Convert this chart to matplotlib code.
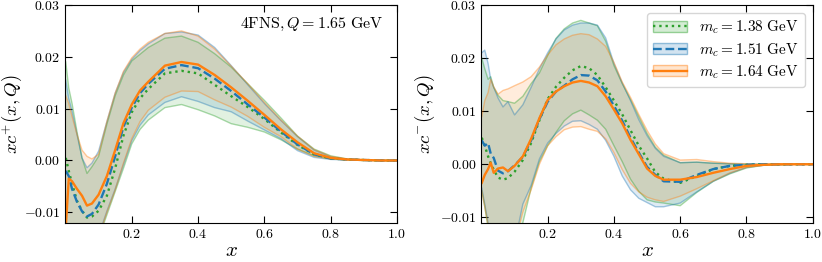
import matplotlib
matplotlib.use("Agg")
import matplotlib.pyplot as plt
from matplotlib.patches import Patch
from matplotlib.lines import Line2D
from matplotlib.colors import to_rgba

plt.rcParams['mathtext.fontset'] = 'cm'
plt.rcParams['font.family'] = 'serif'
plt.rcParams['font.serif'] = ['cmr10', 'DejaVu Serif']
plt.rcParams['axes.formatter.use_mathtext'] = True

labels = [r"$m_c = 1.38\ \mathrm{GeV}$", r"$m_c = 1.51\ \mathrm{GeV}$", r"$m_c = 1.64\ \mathrm{GeV}$"]
colors = ['#2ca02c', '#1f77b4', '#ff7f0e']
styles = [':', '--', '-']

# ---- xc+ (left panel)
x_plus = [0.001, 0.01, 0.02, 0.035, 0.05, 0.065, 0.08, 0.1, 0.125, 0.15, 0.175, 0.2, 0.225, 0.25,
          0.3, 0.35, 0.4, 0.45, 0.5, 0.55, 0.6, 0.65, 0.7, 0.75, 0.8, 0.85, 0.9, 0.95, 1.0]
plus_138 = [0.0005, -0.002, -0.0045, -0.0078, -0.0097, -0.011, -0.0108, -0.0097, -0.0068, -0.0015, 0.0048,
            0.0093, 0.012, 0.0138, 0.0168, 0.0173, 0.0168, 0.0146, 0.0124, 0.0103, 0.008, 0.0054, 0.003,
            0.0012, 0.0004, 0.0002, 0.0001, 0.0, 0.0]
plus_151 = [-0.002, -0.003, -0.0055, -0.008, -0.0098, -0.0108, -0.0103, -0.0085, -0.0045, 0.0008, 0.0065,
            0.0102, 0.013, 0.0148, 0.0177, 0.0184, 0.0178, 0.0158, 0.0134, 0.0108, 0.0083, 0.0056, 0.0031,
            0.0012, 0.0004, 0.0002, 0.0001, 0.0, 0.0]
plus_164 = [-0.013, -0.0035, -0.004, -0.0055, -0.0068, -0.0087, -0.0083, -0.0066, -0.003, 0.002, 0.0072,
            0.0108, 0.0135, 0.0152, 0.0183, 0.019, 0.0185, 0.0165, 0.0141, 0.0115, 0.0088, 0.006, 0.0035,
            0.0014, 0.0005, 0.0002, 0.0001, 0.0, 0.0]
plus_138_hi = [0.019, 0.014, 0.011, 0.0055, 0.0005, -0.0025, -0.0012, 0.0008, 0.007, 0.0125, 0.0165, 0.0192,
               0.0205, 0.0218, 0.0236, 0.024, 0.0228, 0.0206, 0.018, 0.0148, 0.0116, 0.0082, 0.0047, 0.0022,
               0.0009, 0.0003, 0.0001, 0.0, 0.0]
plus_151_hi = [0.0155, 0.012, 0.0095, 0.005, 0.0005, -0.0014, -0.0005, 0.0018, 0.0075, 0.013, 0.017, 0.0195,
               0.0212, 0.0225, 0.0245, 0.0248, 0.0242, 0.0218, 0.0183, 0.0146, 0.011, 0.0077, 0.0046, 0.002,
               0.0007, 0.0002, 0.0001, 0.0, 0.0]
plus_164_hi = [0.0125, 0.011, 0.0085, 0.005, 0.002, 0.0008, 0.0003, 0.0012, 0.0075, 0.013, 0.0172, 0.0198,
               0.0215, 0.0228, 0.0245, 0.025, 0.024, 0.0215, 0.0182, 0.0148, 0.0112, 0.0078, 0.0047, 0.0021,
               0.0008, 0.0003, 0.0001, 0.0, 0.0]
plus_138_lo = [-0.03, -0.03, -0.03, -0.03, -0.028, -0.025, -0.02, -0.015, -0.0105, -0.006, -0.0015, 0.0032,
               0.006, 0.0078, 0.0102, 0.0108, 0.0098, 0.0086, 0.0071, 0.0064, 0.0055, 0.004, 0.0022, 0.0009,
               0.0003, 0.0001, 0.0, 0.0, 0.0]
plus_151_lo = [-0.03, -0.03, -0.03, -0.03, -0.028, -0.025, -0.02, -0.0145, -0.0098, -0.0055, -0.0008, 0.0038,
               0.0068, 0.0088, 0.0112, 0.0123, 0.0114, 0.0102, 0.0094, 0.0076, 0.0059, 0.0042, 0.0019, 0.0006,
               0.0002, 0.0001, 0.0, 0.0, 0.0]
plus_164_lo = [-0.03, -0.03, -0.03, -0.03, -0.028, -0.025, -0.02, -0.0148, -0.01, -0.0057, -0.0005, 0.0042,
               0.0075, 0.0097, 0.0122, 0.0134, 0.0133, 0.0117, 0.0103, 0.0085, 0.0064, 0.0046, 0.0022, 0.0008,
               0.0003, 0.0001, 0.0, 0.0, 0.0]

# ---- xc- (right panel)
x_minus = [0.001, 0.01, 0.02, 0.028, 0.037, 0.05, 0.065, 0.08, 0.1, 0.125, 0.15, 0.175, 0.2, 0.225, 0.25,
           0.275, 0.3, 0.325, 0.35, 0.375, 0.4, 0.425, 0.45, 0.475, 0.5, 0.525, 0.55, 0.6, 0.65, 0.7, 0.75,
           0.8, 0.85, 0.9, 0.95, 1.0]
minus_138 = [0.005, 0.0035, 0.0015, 0.0002, -0.001, -0.0025, -0.0029, -0.0026, -0.0014, 0.0008, 0.004, 0.0083,
             0.0123, 0.0146, 0.0163, 0.0177, 0.0185, 0.0181, 0.0168, 0.0145, 0.012, 0.0094, 0.0064, 0.0035,
             0.0011, -0.0015, -0.0027, -0.0035, -0.0022, -0.0009, -0.0003, -0.0001, 0.0, 0.0, 0.0, 0.0]
minus_151 = [0.0045, 0.0035, 0.004, 0.002, 0.0012, -0.0012, -0.0017, -0.0013, -0.0002, 0.0014, 0.0045, 0.0085,
             0.0118, 0.0137, 0.0148, 0.016, 0.0168, 0.0167, 0.0158, 0.0137, 0.011, 0.0082, 0.005, 0.0022,
             -0.0005, -0.002, -0.0032, -0.0033, -0.002, -0.0009, -0.0003, -0.0001, 0.0, 0.0, 0.0, 0.0]
minus_164 = [-0.0035, -0.002, -0.0009, 0.0003, -0.0016, -0.0008, -0.0006, -0.0013, -0.0003, 0.0015, 0.0048,
             0.0087, 0.0121, 0.0137, 0.0147, 0.0154, 0.0157, 0.0154, 0.0147, 0.0128, 0.0103, 0.0077, 0.0046,
             0.0019, -0.0008, -0.0022, -0.0029, -0.0029, -0.0024, -0.0016, -0.0009, -0.0003, -0.0001, 0.0,
             0.0, 0.0]
minus_138_hi = [0.02, 0.018, 0.016, 0.0165, 0.0145, 0.013, 0.012, 0.0118, 0.0115, 0.0128, 0.0152, 0.0172,
                0.0205, 0.0237, 0.0255, 0.0266, 0.0271, 0.0266, 0.0261, 0.0232, 0.0186, 0.0152, 0.0122, 0.009,
                0.0058, 0.0032, 0.0017, 0.0003, 0.0004, 0.0002, 0.0001, 0.0, 0.0, 0.0, 0.0, 0.0]
minus_151_hi = [0.021, 0.0215, 0.019, 0.016, 0.0145, 0.0125, 0.0108, 0.0118, 0.0093, 0.0112, 0.0145, 0.018,
                0.021, 0.0236, 0.0253, 0.0262, 0.0266, 0.0266, 0.0262, 0.0238, 0.019, 0.0153, 0.012, 0.0084,
                0.0054, 0.003, 0.0015, 0.0003, 0.0004, 0.0002, 0.0001, 0.0, 0.0, 0.0, 0.0, 0.0]
minus_164_hi = [0.009, 0.012, 0.0135, 0.016, 0.0146, 0.0132, 0.0139, 0.0142, 0.0148, 0.0155, 0.0165, 0.0183,
                0.0206, 0.0225, 0.0236, 0.0243, 0.0246, 0.0244, 0.0236, 0.0222, 0.0192, 0.0155, 0.0126, 0.0094,
                0.0064, 0.0038, 0.002, 0.0008, 0.0009, 0.0005, 0.0002, 0.0001, 0.0, 0.0, 0.0, 0.0]
minus_138_lo = [-0.005, -0.008, -0.012, -0.015, -0.02, -0.025, -0.025, -0.02, -0.015, -0.011, -0.0045, 0.0005,
                0.0035, 0.006, 0.0082, 0.0095, 0.0102, 0.0093, 0.0083, 0.0066, 0.0035, 0.0005, -0.0028, -0.0051,
                -0.0067, -0.0071, -0.0073, -0.0078, -0.0053, -0.0032, -0.0018, -0.0007, -0.0002, -0.0001, 0.0,
                0.0]
minus_151_lo = [-0.0045, -0.0075, -0.011, -0.014, -0.019, -0.024, -0.025, -0.02, -0.015, -0.0075, -0.004, 0.001,
                0.004, 0.0058, 0.0072, 0.0081, 0.0082, 0.0075, 0.0066, 0.0045, 0.0015, -0.0022, -0.0048, -0.0064,
                -0.0072, -0.008, -0.008, -0.0073, -0.0052, -0.0032, -0.0017, -0.0006, -0.0002, -0.0001, 0.0, 0.0]
minus_164_lo = [-0.005, -0.008, -0.0115, -0.0145, -0.02, -0.025, -0.025, -0.02, -0.015, -0.009, -0.0048, 0.0,
                0.0035, 0.0052, 0.0065, 0.007, 0.0071, 0.0066, 0.0062, 0.0048, 0.0022, -0.001, -0.0036, -0.0052,
                -0.0062, -0.0067, -0.007, -0.006, -0.0046, -0.0031, -0.0016, -0.0006, -0.0002, -0.0001, 0.0, 0.0]


def draw_panel(ax, x, central, upper, lower):
    for c, y, hi, lo in zip(colors, central, upper, lower):
        ax.fill_between(x, lo, hi, color=c, alpha=0.14, lw=0)
        ax.plot(x, hi, color=c, alpha=0.4, lw=1.0)
        ax.plot(x, lo, color=c, alpha=0.4, lw=1.0)
    for c, ls, y in zip(colors, styles, central):
        ax.plot(x, y, color=c, ls=ls, lw=1.7)
    ax.set_xlim(0, 1)
    ax.set_xticks([0.2, 0.4, 0.6, 0.8, 1.0])
    ax.set_yticks([-0.01, 0.0, 0.01, 0.02, 0.03])
    ax.tick_params(direction='in', top=True, right=True, length=5, width=0.8, labelsize=10)
    ax.set_xlabel(r"$x$", fontsize=15, labelpad=1)


fig = plt.figure(figsize=(8.22, 2.62), dpi=100)
ax1 = fig.add_axes([0.0796, 0.150, 0.4034, 0.831])
ax2 = fig.add_axes([0.5857, 0.150, 0.4030, 0.831])

draw_panel(ax1, x_plus, [plus_138, plus_151, plus_164],
           [plus_138_hi, plus_151_hi, plus_164_hi], [plus_138_lo, plus_151_lo, plus_164_lo])
ax1.set_ylim(-0.012, 0.03)
ax1.set_ylabel(r"$xc^{+}(x,Q)$", fontsize=13.5, labelpad=0)
ax1.text(0.96, 0.91, r"$\mathrm{4FNS}, Q = 1.65\ \mathrm{GeV}$", transform=ax1.transAxes,
         ha='right', va='center', fontsize=11.5)

draw_panel(ax2, x_minus, [minus_138, minus_151, minus_164],
           [minus_138_hi, minus_151_hi, minus_164_hi], [minus_138_lo, minus_151_lo, minus_164_lo])
ax2.set_ylim(-0.011, 0.03)
ax2.set_ylabel(r"$xc^{-}(x,Q)$", fontsize=13.5, labelpad=2)

handles = []
for c, ls in zip(colors, styles):
    band = Patch(facecolor=to_rgba(c, 0.2), edgecolor=to_rgba(c, 0.45), lw=1.0)
    line = Line2D([], [], color=c, ls=ls, lw=1.7)
    handles.append((band, line))
ax2.legend(handles, labels, loc='upper right', fontsize=11, handlelength=2.2,
           borderaxespad=0.5, labelspacing=0.3)

fig.savefig("out.png", dpi=100)
